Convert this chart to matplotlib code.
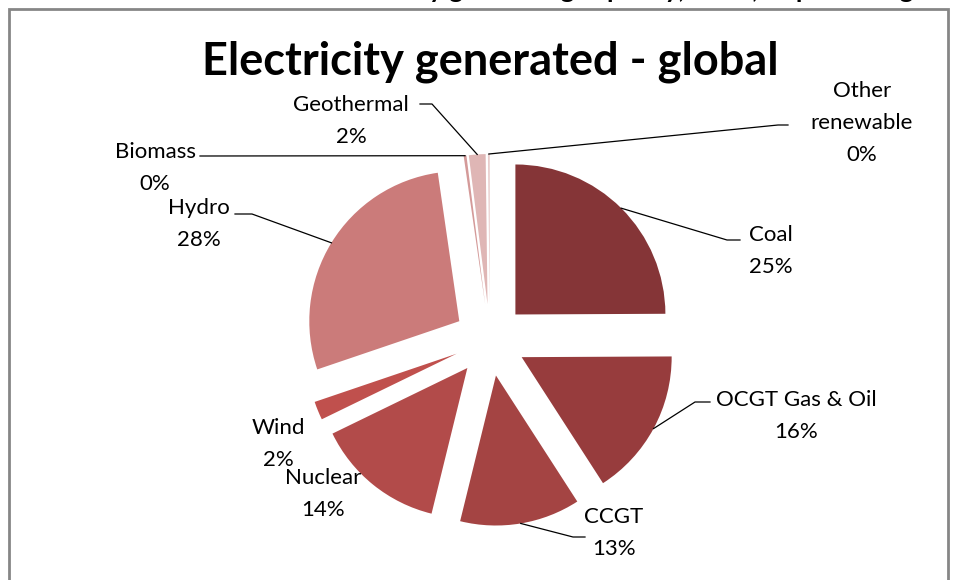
import matplotlib
matplotlib.use("Agg")
import matplotlib.pyplot as plt
import numpy as np
from matplotlib.patches import Rectangle

plt.rcParams['font.family'] = ['Lato', 'DejaVu Sans']

# data (share of global electricity generated, %)
sources = ["Coal", "OCGT Gas & Oil", "CCGT", "Nuclear", "Wind",
           "Hydro", "Biomass", "Geothermal", "Other\nrenewable"]
shares = [25.0, 16.0, 13.0, 14.0, 2.0, 28.0, 0.3, 1.8, 0.2]
colors = ["#853537", "#973c3d", "#a44443", "#b24b4a", "#c0504d",
          "#cb7b7a", "#d49a99", "#dfb6b5", "#e8cdcc"]

W, H = 956, 580
CX, CY, R = 490, 340, 150   # pie centre / radius in pixels


def px(x, y):
    # pixel -> data coords (pie radius = 1)
    return (x - CX) / R, (CY - y) / R


fig = plt.figure(figsize=(W / 100, H / 100), dpi=100)
ax = fig.add_axes([0, 0, 1, 1])

wedges, _ = ax.pie(shares, colors=colors, startangle=90, counterclock=False,
                   explode=[0.24] * len(shares), radius=1,
                   wedgeprops=dict(linewidth=0))

# pie() resets limits, so set them afterwards
ax.set_xlim(-CX / R, (W - CX) / R)
ax.set_ylim(-(H - CY) / R, CY / R)
ax.set_aspect("equal")
ax.axis("off")

# label text centre, and leader elbow points (pixels); None = no leader
label_pos = [(771, 251), (796, 416), (614, 533), (323, 494), (278, 444),
             (199, 224), (155, 168), (351, 121), (862, 123)]
leaders = [[(727, 240), (740, 240)],
           [(695, 402), (710, 402)],
           [(573, 537), (585, 537)],
           None,
           None,
           [(252, 214), (235, 214)],
           [(205, 156), (200, 156)],
           [(432, 104), (420, 104)],
           [(778, 125), (788, 125)]]

total = sum(shares)
for w, name, val, pos, ld in zip(wedges, sources, shares, label_pos, leaders):
    txt = "%s\n%.0f%%" % (name, val / total * 100)
    tx, ty = px(*pos)
    ax.text(tx, ty, txt, ha="center", va="center", fontsize=16,
            linespacing=1.75, color="black")
    if ld is None:
        continue
    mid = np.deg2rad((w.theta1 + w.theta2) / 2)
    ax_ = w.center[0] + w.r * np.cos(mid)
    ay_ = w.center[1] + w.r * np.sin(mid)
    pts = [(ax_, ay_)] + [px(*p) for p in ld]
    ax.plot([p[0] for p in pts], [p[1] for p in pts], color="black", lw=0.9)

ax.text(*px(490, 62), "Electricity generated - global", ha="center",
        va="center", fontsize=32.5, fontweight="bold")

# chopped heading above the chart frame
fig.text(0.655, 1 + 2 / H, "Electricity generating capacity, 2010, as percentage",
         ha="center", va="baseline", fontsize=19, fontweight="bold")

fig.patches.append(Rectangle((9 / W, -0.05), (948 - 9) / W, 1.05 - 9 / H,
                             transform=fig.transFigure, fill=False,
                             edgecolor="#868686", lw=2))

fig.savefig("out.png", dpi=100)
